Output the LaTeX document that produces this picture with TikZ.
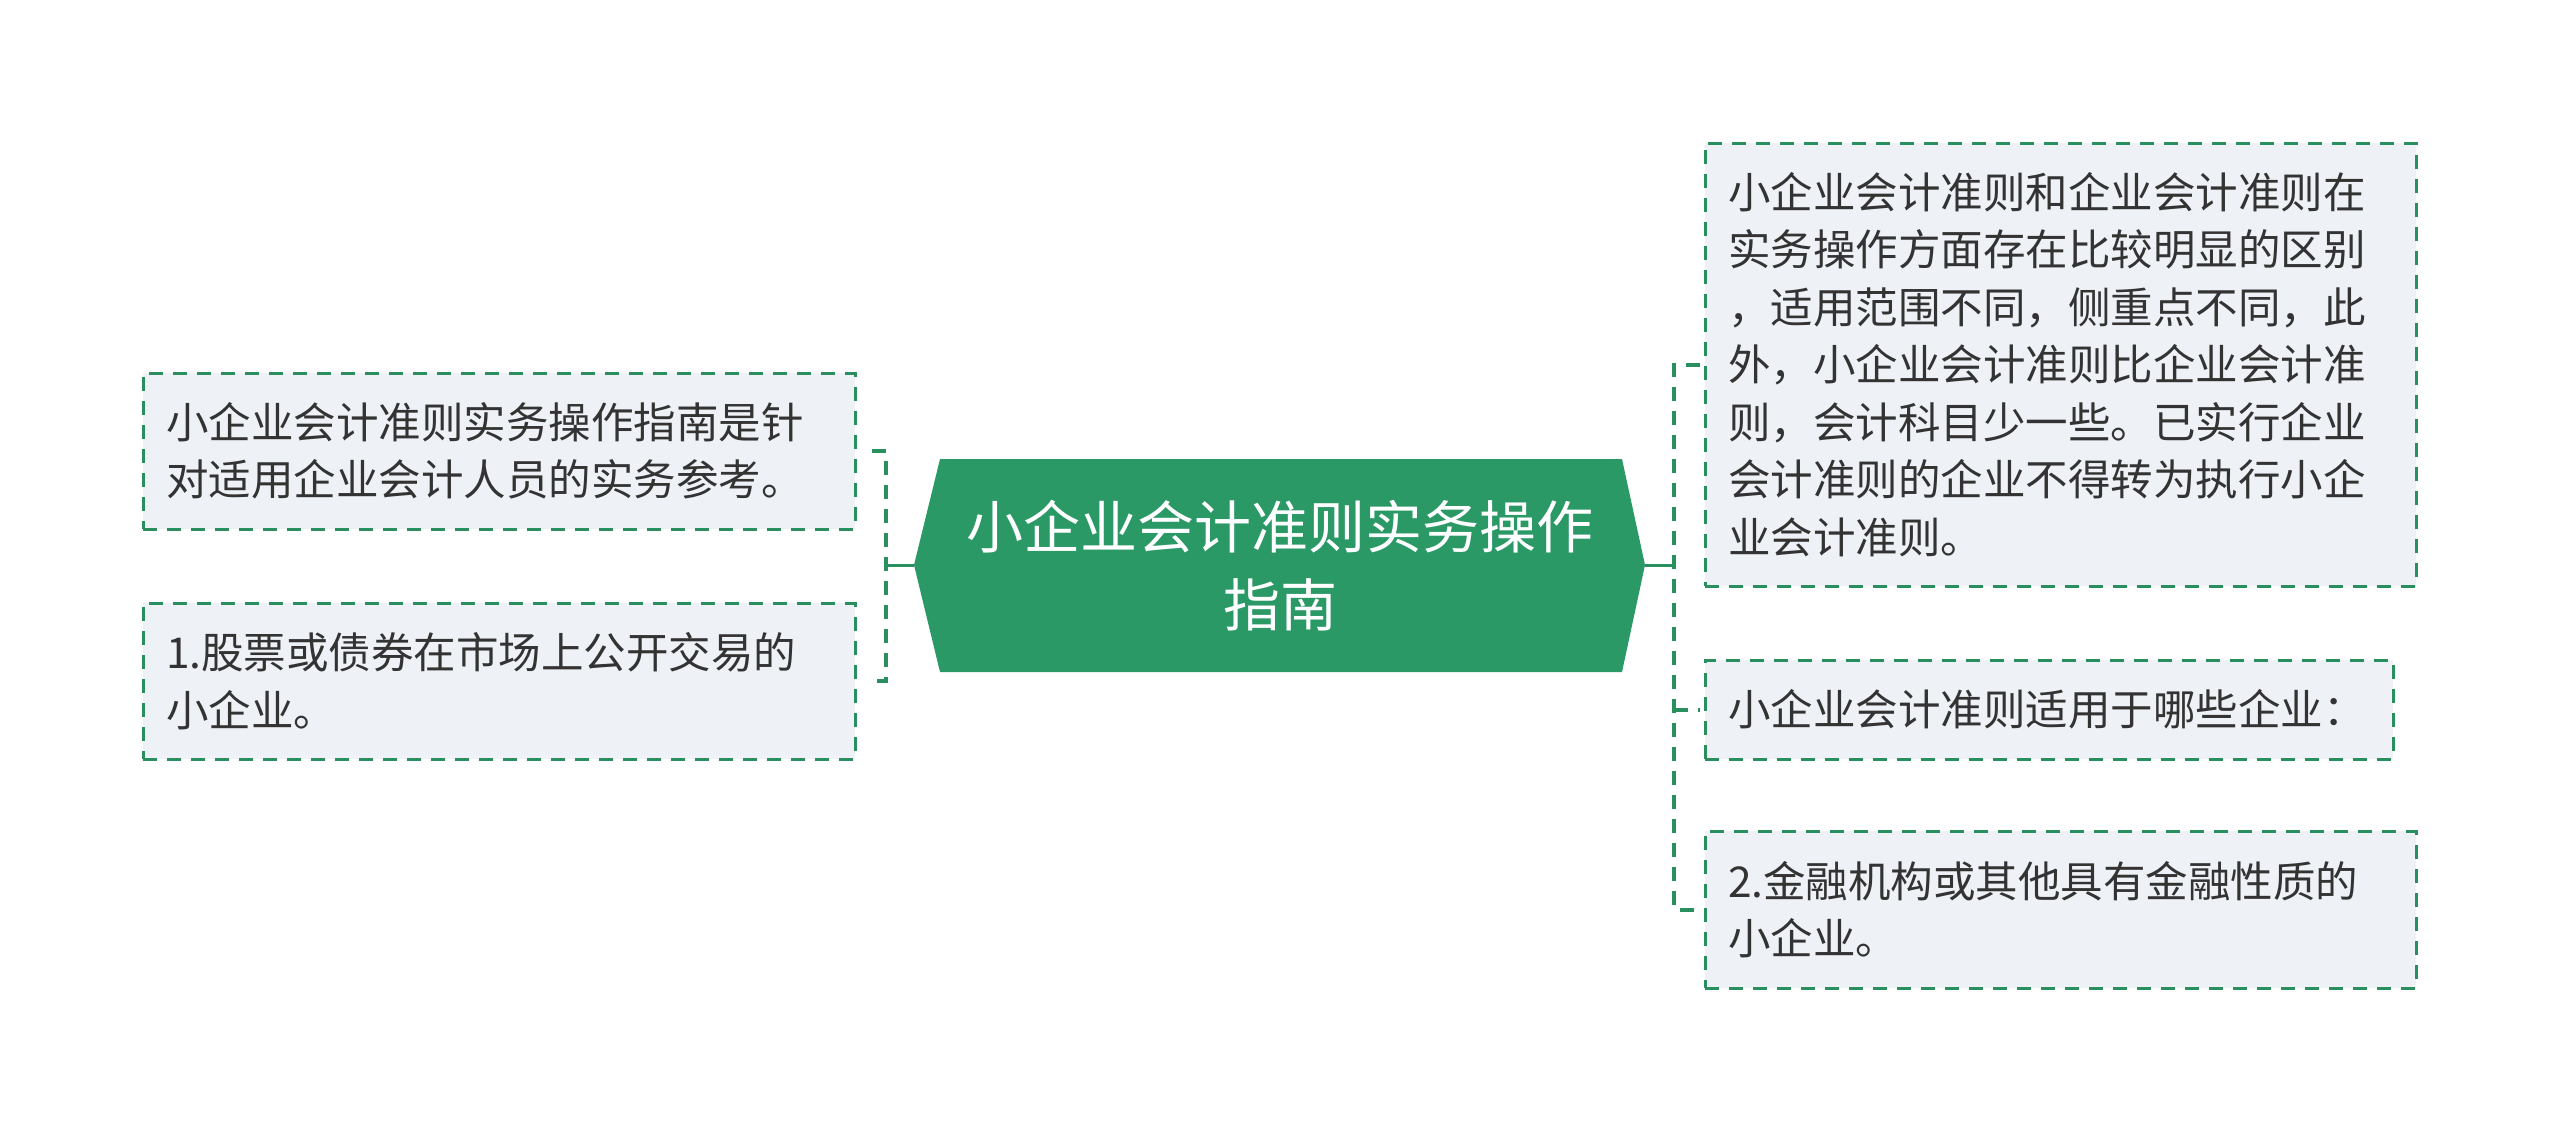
\documentclass[tikz,border=0pt]{standalone}
\usepackage{fontspec}
\setmainfont{Noto Sans CJK SC}
\definecolor{mgreen}{HTML}{2A9966}
\definecolor{dgreen}{HTML}{2A8F5E}
\definecolor{boxfill}{HTML}{EEF1F5}
\definecolor{txt}{HTML}{333333}
\begin{document}
\begin{tikzpicture}[x=1pt,y=-1pt,
  leaf/.style={draw=dgreen, line width=3pt, dash pattern=on 14pt off 10pt, fill=boxfill,
    text=txt, align=left, inner xsep=23pt, inner ysep=0pt, anchor=center,
    font=\fontsize{42.5}{57.5}\selectfont},
  conn/.style={draw=dgreen, line width=4pt, dash pattern=on 14pt off 10pt},
  trunk/.style={draw=dgreen, line width=3pt},
  hub/.style={text=white, align=center, font=\fontsize{57}{78}\selectfont, inner sep=0pt}
]
\useasboundingbox (0,0) rectangle (2560,1132);
\fill[white] (0,0) rectangle (2560,1132);

% central hexagon
\fill[mgreen] (914,565) -- (940,459) -- (1622,459) -- (1645,565) -- (1622,672) -- (940,672) -- cycle;
\node[hub] (c) at (1280,566) {小企业会计准则实务操作\\指南};
\coordinate (cl) at (914,565);
\coordinate (cr) at (1645,565);
\coordinate (jl) at (886,565);
\coordinate (jr) at (1674,565);

% left leaves
\node[leaf, text width=666pt, minimum height=156pt] (L1) at (499,451)
  {小企业会计准则实务操作指南是针\\对适用企业会计人员的实务参考。};
\node[leaf, text width=666pt, minimum height=156pt] (L2) at (499,681)
  {1.股票或债券在市场上公开交易的\\小企业。};

% right leaves
\node[leaf, text width=665pt, minimum height=443pt] (R1) at (2060.5,364.5)
  {小企业会计准则和企业会计准则在\\实务操作方面存在比较明显的区别\\，适用范围不同，侧重点不同，此\\外，小企业会计准则比企业会计准\\则，会计科目少一些。已实行企业\\会计准则的企业不得转为执行小企\\业会计准则。};
\node[leaf, text width=642pt, minimum height=99pt] (R2) at (2049,709.5)
  {小企业会计准则适用于哪些企业：};
\node[leaf, text width=665pt, minimum height=157pt] (R3) at (2060.5,909.5)
  {2.金融机构或其他具有金融性质的\\小企业。};

% connectors left
\draw[trunk] (cl) -- (jl);
\draw[conn] ([xshift=15pt]L1.east) -- (jl |- L1.east) -- (jl |- L2.east) -- ([xshift=15pt]L2.east);

% connectors right
\draw[trunk] (cr) -- (jr);
\draw[conn] ([xshift=-4pt]R1.west) -- (jr |- R1.west) -- (jr |- R3.west) -- ([xshift=-4pt]R3.west);
\draw[conn] (jr |- R2.west) -- ([xshift=-4pt]R2.west);
\end{tikzpicture}
\end{document}
